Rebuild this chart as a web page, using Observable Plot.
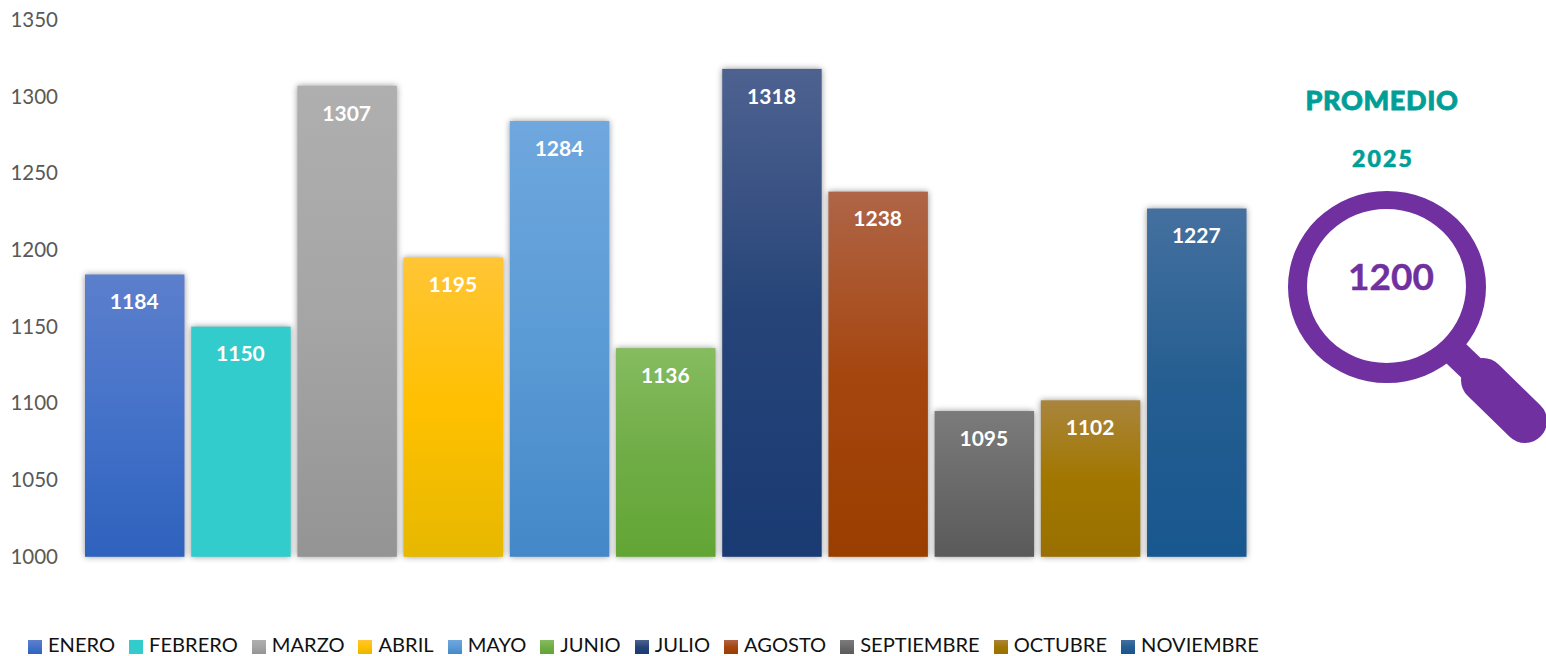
<!DOCTYPE html>
<html lang="es">
<head>
<meta charset="utf-8">
<script src="https://cdn.jsdelivr.net/npm/d3@7"></script>
<script src="https://cdn.jsdelivr.net/npm/@observablehq/plot@0.6"></script>
<style>
  html, body { margin: 0; padding: 0; background: #fff; width: 1546px; height: 656px; overflow: hidden; }
  body { position: relative; font-family: Lato, sans-serif; }
  #legend { position: absolute; left: 28px; top: 632px; display: flex; gap: 14px; white-space: nowrap; font-size: 20.1px; line-height: 24px; color: #111; }
  #legend .item { display: flex; align-items: center; gap: 6px; }
  #legend .sw { width: 14px; height: 14px; display: inline-block; position: relative; top: 3px; }
  #promedio { position: absolute; left: 1282px; top: 84px; width: 200px; text-align: center; font-size: 27px; line-height: 32px; font-weight: 900; color: #009E96; letter-spacing: 0.65px; -webkit-text-stroke: 0.8px #009E96; }
  #anio { position: absolute; left: 1283px; top: 143px; width: 200px; text-align: center; font-size: 23px; line-height: 30px; font-weight: 900; color: #009E96; letter-spacing: 2.2px; -webkit-text-stroke: 0.6px #009E96; }
  #lupa { position: absolute; left: 0; top: 0; pointer-events: none; }
  #valor { position: absolute; left: 1291px; top: 252px; width: 200px; text-align: center; font-size: 37px; line-height: 48px; font-weight: 700; color: #7030A0; -webkit-text-stroke: 0.4px #7030A0; }
</style>
</head>
<body>
<div id="chart"></div>
<div id="legend"></div>
<svg id="lupa" width="1546" height="656">
  <g fill="#7030A0">
    <path fill-rule="evenodd" d="M1288 287a99 96 0 1 0 198 0a99 96 0 1 0 -198 0zM1307 286a79.5 77 0 1 1 159 0a79.5 77 0 1 1 -159 0z"/>
    <path d="M1446 363L1466 344L1490 367L1470 386z"/>
    <path d="M1483 380L1525 421" stroke="#7030A0" stroke-width="44" stroke-linecap="round" fill="none"/>
  </g>
</svg>
<div id="promedio"></div>
<div id="anio"></div>
<div id="valor"></div>
<script>
const meses = ["ENERO","FEBRERO","MARZO","ABRIL","MAYO","JUNIO","JULIO","AGOSTO","SEPTIEMBRE","OCTUBRE","NOVIEMBRE"];
const valores = [1184,1150,1307,1195,1284,1136,1318,1238,1095,1102,1227];
const yTicks = [1000,1050,1100,1150,1200,1250,1300,1350];
const colorTop = ["#5C7FCC","#33CCCC","#AFAFAF","#FFC535","#6FA7DE","#85BC5F","#4E6290","#AF6547","#7B7B7B","#A9853D","#44709F"];
const colorMid = ["#4472C9","#33CCCC","#A5A5A5","#FFC000","#5B9BD5","#70AD47","#264478","#A5460F","#6A6A6A","#A27700","#255E91"];
const colorBot = ["#2F62BD","#33CCCC","#949494","#E6B800","#4488C8","#62A534","#1A3A73","#9A3E00","#5A5A5A","#997000","#18578F"];
const tituloPromedio = "PROMEDIO";
const anio = "2025";
const promedio = 1200;

const filas = meses.map((mes, i) => ({mes, valor: valores[i], base: 1000, relleno: `url(#g${i})`}));

const plot = Plot.plot({
  width: 1546,
  height: 632,
  marginLeft: 85,
  marginRight: 299,
  marginTop: 20,
  marginBottom: 75,
  style: {fontFamily: "Lato, sans-serif", background: "transparent"},
  x: {domain: meses, range: [85, 1246.5], round: false, paddingInner: 0.0635, paddingOuter: 0, axis: null},
  y: {domain: [1000, 1350], range: [556.8, 19.8]},
  color: {type: "identity"},
  marks: [
    Plot.axisY({ticks: yTicks, tickSize: 0, tickPadding: 27.5, tickFormat: d => String(d), fontSize: 20.5, color: "#595959", label: null}),
    Plot.barY(filas, {x: "mes", y1: "base", y2: "valor", fill: "relleno", imageFilter: "drop-shadow(0 0 3px rgba(0,0,0,0.42))"}),
    Plot.text(filas, {x: "mes", y: "valor", text: d => String(d.valor), dx: -1, dy: 27.5, fill: "#fff", fontSize: 21, fontWeight: 700})
  ]
});

const defs = d3.select(plot).insert("defs", ":first-child");
meses.forEach((m, i) => {
  const g = defs.append("linearGradient").attr("id", `g${i}`).attr("x1", 0).attr("y1", 0).attr("x2", 0).attr("y2", 1);
  g.append("stop").attr("offset", "0%").attr("stop-color", colorTop[i]);
  g.append("stop").attr("offset", "50%").attr("stop-color", colorMid[i]);
  g.append("stop").attr("offset", "100%").attr("stop-color", colorBot[i]);
});
document.getElementById("chart").append(plot);

const legend = d3.select("#legend");
meses.forEach((m, i) => {
  const it = legend.append("span").attr("class", "item");
  it.append("span").attr("class", "sw").style("background", `linear-gradient(${colorTop[i]}, ${colorMid[i]} 50%, ${colorBot[i]})`);
  it.append("span").attr("class", "tx").text(m);
});
document.getElementById("promedio").textContent = tituloPromedio;
document.getElementById("anio").textContent = anio;
document.getElementById("valor").textContent = promedio;
</script>
</body>
</html>
